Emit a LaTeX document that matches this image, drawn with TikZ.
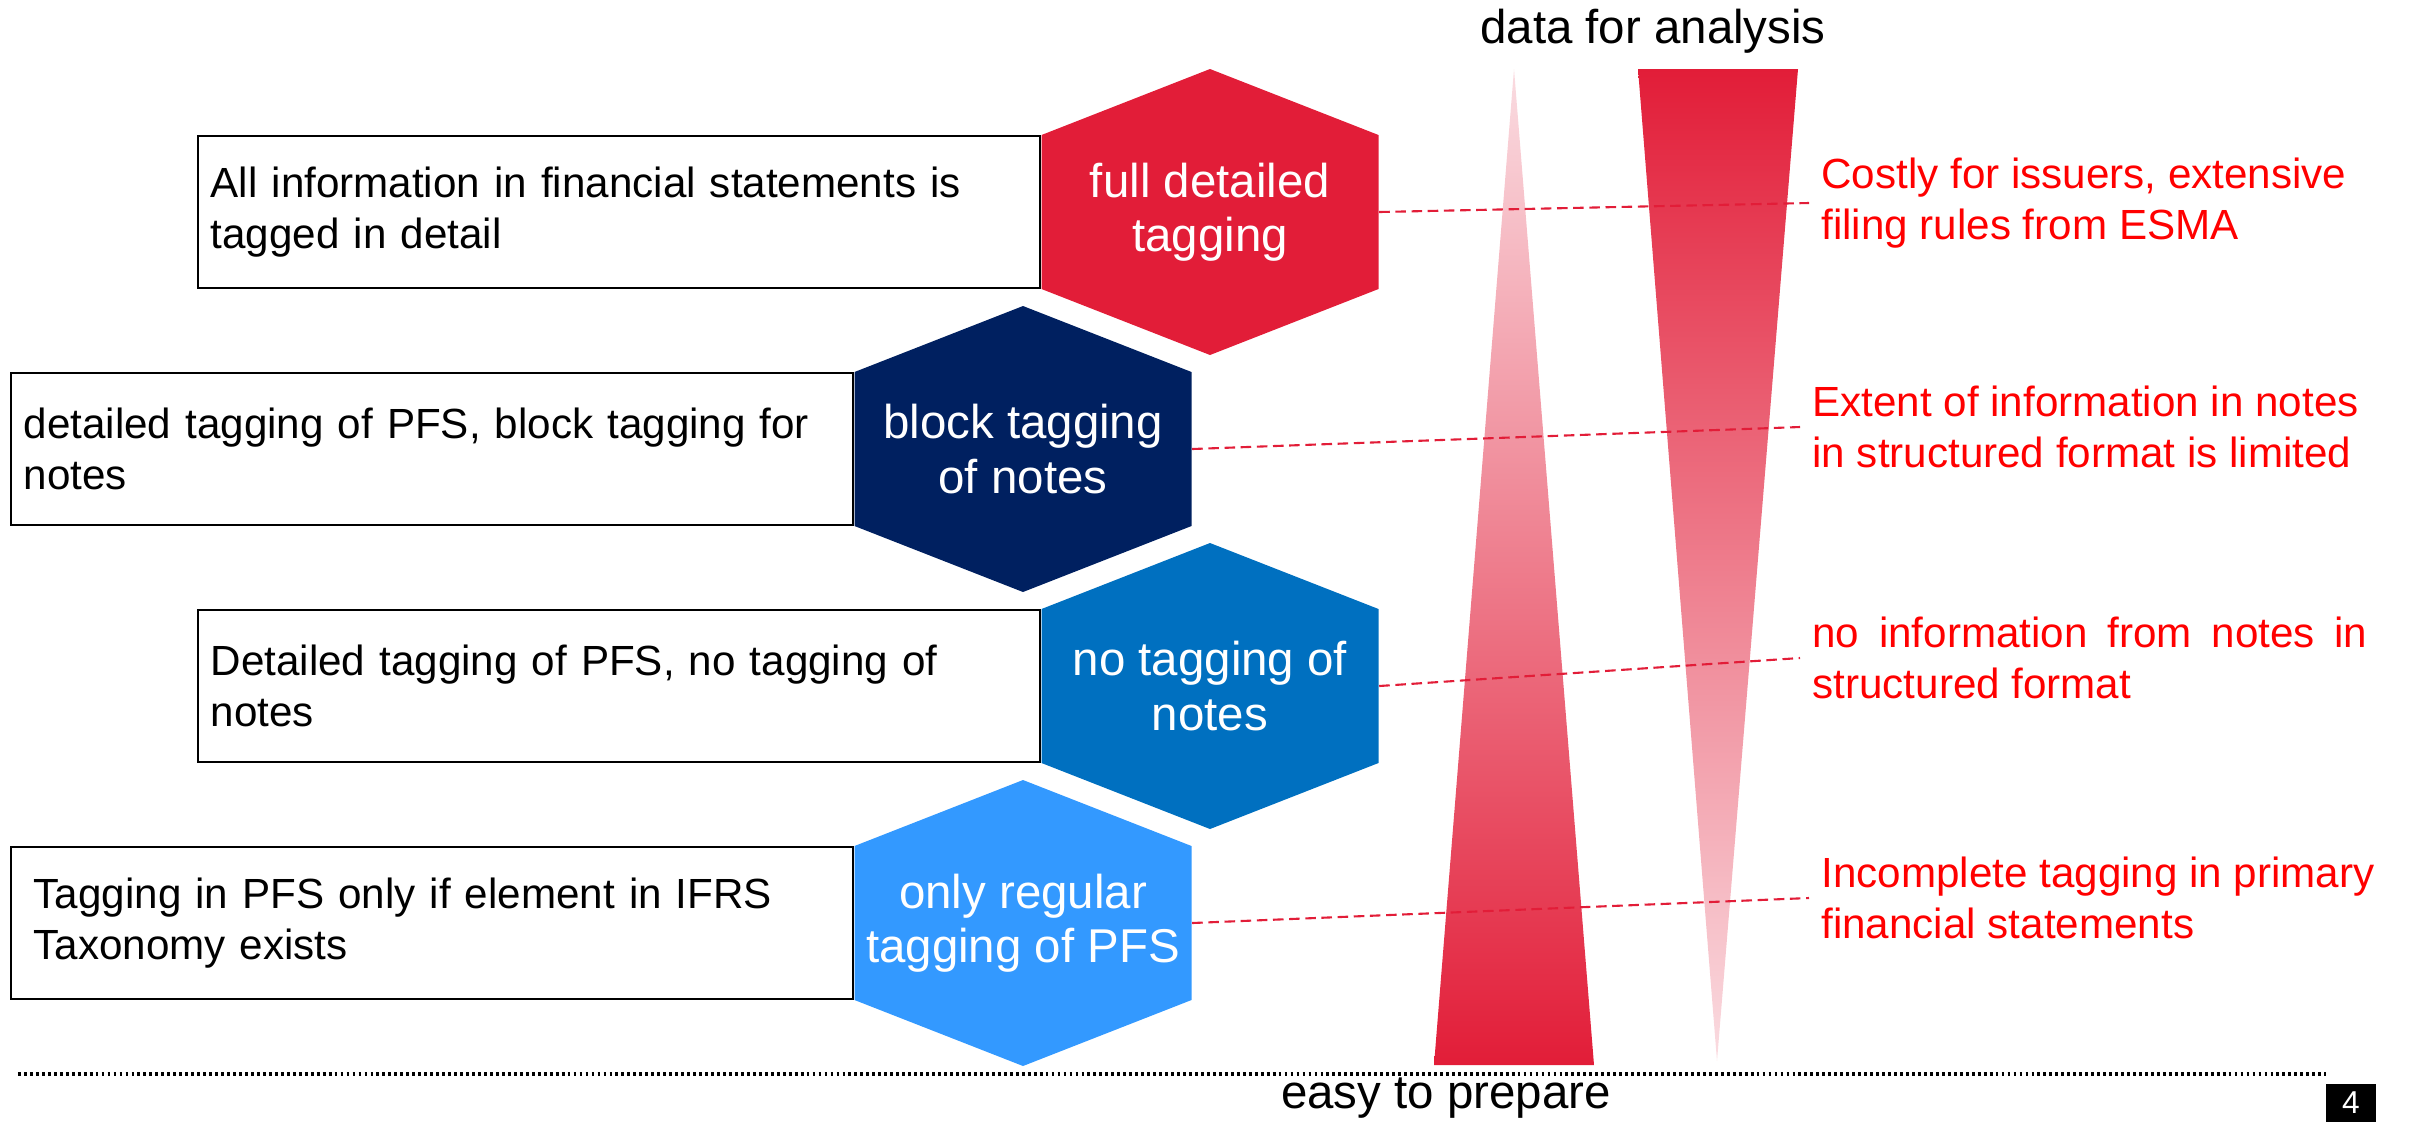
\documentclass[tikz,border=0pt]{standalone}
\usepackage{fontspec}
\setmainfont{Liberation Sans}
\usetikzlibrary{positioning}

\definecolor{esmared}{RGB}{226,29,56}
\definecolor{palered}{RGB}{250,220,225}
\definecolor{navy}{RGB}{0,32,96}
\definecolor{midblue}{RGB}{0,112,192}
\definecolor{lightblue}{RGB}{51,153,255}

\newcommand{\bigtext}{\fontsize{13.5}{15.5}\selectfont}
\newcommand{\smalltext}{\fontsize{12}{14.3}\selectfont}

\begin{document}
\begin{tikzpicture}[y=-1cm,
    hexcell/.style={minimum width=3.37cm, minimum height=2.86cm, inner sep=0pt,
      align=center, text=white, font=\bigtext,
      path picture={\fill[#1] (path picture bounding box.north)
        -- ([yshift=-6.6mm]path picture bounding box.north east)
        -- ([yshift=6.6mm]path picture bounding box.south east)
        -- (path picture bounding box.south)
        -- ([yshift=6.6mm]path picture bounding box.south west)
        -- ([yshift=-6.6mm]path picture bounding box.north west) -- cycle;}},
    descbox/.style={draw=black, line width=0.6pt, fill=white, minimum height=1.52cm,
      text width=8.16cm, inner xsep=1.3mm, align=left, font=\smalltext},
    note/.style={anchor=west, text=red, align=left, font=\smalltext},
    link/.style={draw=esmared, dash pattern=on 3pt off 1.6pt, line width=0.6pt}]
    \useasboundingbox (0,0) rectangle (24.10,11.22);

    % wedges
    \shade[top color=palered, bottom color=esmared] (15.14,0.69) -- (15.94,10.65) -- (14.34,10.65) -- cycle;
    \shade[top color=esmared, bottom color=palered] (16.38,0.69) -- (17.98,0.69) -- (17.17,10.61) -- cycle;

    \node[font=\bigtext] (analysis) at (16.53,0.31) {data for analysis};
    \node[font=\bigtext] (prepare) at (14.46,10.98) {easy to prepare};

    % tagging levels
    \node[hexcell=esmared] (hex1) at (12.10,2.12) {full detailed\\tagging};
    \node[hexcell=navy] (hex2) at (10.23,4.49) {block tagging\\of notes};
    \node[hexcell=midblue] (hex3) at (12.10,6.86) {no tagging of\\notes};
    \node[hexcell=lightblue] (hex4) at (10.23,9.23) {only regular\\tagging of PFS};

    \node[descbox, left=0pt of hex1] (box1) {All information in financial statements is\\tagged in detail};
    \node[descbox, left=0pt of hex2] (box2) {detailed tagging of PFS, block tagging for\\notes};
    \node[descbox, left=0pt of hex3] (box3) {Detailed tagging of PFS, no tagging of\\notes};
    \node[descbox, left=0pt of hex4, inner xsep=2.3mm, text width=7.96cm] (box4) {Tagging in PFS only if element in IFRS\\Taxonomy exists};

    % consequences
    \node[note] (note1) at (18.09,2.03) {Costly for issuers, extensive\\filing rules from ESMA};
    \node[note] (note2) at (18.00,4.27) {Extent of information in notes\\in structured format is limited};
    \node[note, text width=5.55cm, align=justify] (note3) at (18.00,6.58) {no information from notes in structured format};
    \node[note] (note4) at (18.09,8.98) {Incomplete tagging in primary\\financial statements};

    \foreach \from/\to in {hex1/note1,hex2/note2,hex3/note3,hex4/note4}
    \draw[link] (\from.east)--(\to.west);

    \draw[line width=1.1pt, dash pattern=on 0.8pt off 0.9pt] (0.18,10.74) -- (23.26,10.74);
    \node[fill=black, text=white, minimum width=0.5cm, minimum height=0.38cm, inner sep=0pt,
      font=\fontsize{9}{10}\selectfont] (pagenum) at (23.51,11.03) {4};
\end{tikzpicture}
\end{document}
